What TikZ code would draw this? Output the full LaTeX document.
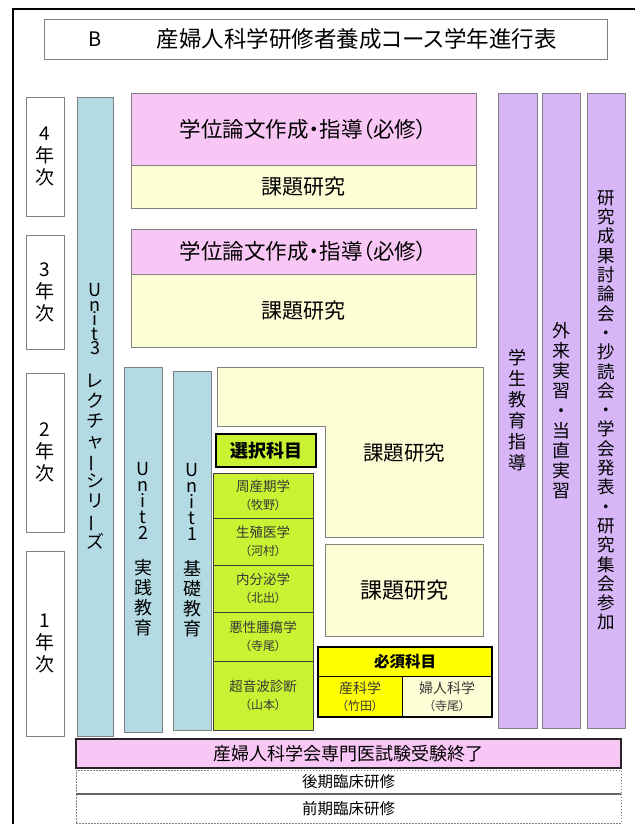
\documentclass[tikz,border=0pt]{standalone}
\usepackage{fontspec}
\usepackage{graphicx}
\setmainfont{Noto Sans CJK JP}[RawFeature={+palt}]
\definecolor{pinkc}{RGB}{249,199,245}
\definecolor{creamc}{RGB}{254,254,214}
\definecolor{bluec}{RGB}{180,219,228}
\definecolor{purpc}{RGB}{214,182,246}
\definecolor{limec}{RGB}{200,242,50}
\definecolor{yelc}{RGB}{255,255,0}
\definecolor{edgec}{RGB}{128,128,128}
\definecolor{textc}{RGB}{55,55,55}
\newcommand\tatebar{\rotatebox[origin=c]{90}{ー}}
\newcommand\rbox[7]{\node[box,#2,minimum width={(#5)-(#3)},minimum height={(#6)-(#4)}] (#1) at ({((#3)+(#5))/2},{((#4)+(#6))/2}) {#7};}
\tikzset{
  box/.style={draw=edgec,line width=0.8pt,inner sep=0pt,outer sep=0pt,align=center},
  yearbox/.style={fill=white,font=\fontsize{19}{22}\selectfont},
  unitbox/.style={fill=bluec,font=\fontsize{18}{20}\selectfont},
  purpbox/.style={fill=purpc},
  pinkbox/.style={fill=pinkc,font=\fontsize{21.5}{24}\selectfont},
  creambox/.style={fill=creamc,font=\fontsize{21}{24}\selectfont},
  lrow/.style={fill=limec,draw=black!75,line width=0.8pt,text=textc,font=\fontsize{13.5}{18}\selectfont},
  hcell/.style={draw=black,line width=1pt,text=textc,font=\fontsize{14}{17}\selectfont},
  dashbox/.style={draw=gray,dash pattern=on 1.5pt off 1.5pt,font=\fontsize{15.5}{18}\selectfont}
}
\begin{document}
\begin{tikzpicture}[x=1pt,y=-1pt]
\useasboundingbox (0,0) rectangle (635,824);
% outer frame
\draw[line width=1.5pt] (13,824) -- (13,9) -- (635,9);
% title
\rbox{title}{fill=white}{44}{19}{607}{59}{}
\node[font=\fontsize{20}{22}\selectfont] (tb) at (95,39) {B};
\node[anchor=west,font=\fontsize{22.5}{24}\selectfont] (tt) at (153,39) {産婦人科学研修者養成コース学年進行表};
% year labels
\rbox{y4}{yearbox}{26}{97}{64}{216}{4\\年\\次}
\rbox{y3}{yearbox}{26}{235}{64}{349}{3\\年\\次}
\rbox{y2}{yearbox}{26}{373}{64}{532}{2\\年\\次}
\rbox{y1}{yearbox}{26}{551}{64}{736}{1\\年\\次}
% units
\rbox{u3}{unitbox}{77}{97}{113}{736}{U\\[-5.5pt]n\\[-5.5pt]i\\[-5.5pt]t\\[-5.5pt]3\\[13pt]レ\\ク\\チ\\ャ\\\tatebar\\シ\\リ\\\tatebar\\ズ}
\rbox{u2}{unitbox}{124}{367}{162}{732}{U\\[-4pt]n\\[-4pt]i\\[-4pt]t\\[-4pt]2\\[15pt]実\\践\\教\\育}
\rbox{u1}{unitbox}{173}{371}{211}{730}{U\\[-4pt]n\\[-4pt]i\\[-4pt]t\\[-4pt]1\\[15pt]基\\礎\\教\\育}
% 4th and 3rd year
\rbox{p4}{pinkbox}{131}{93}{476}{165}{学位論文作成・指導（必修）}
\rbox{k4}{creambox}{131}{165}{476}{208}{課題研究}
\rbox{p3}{pinkbox}{131}{229}{476}{274}{学位論文作成・指導（必修）}
\rbox{k3}{creambox}{131}{274}{476}{347}{課題研究}
% 2nd year L-shape
\draw[draw=edgec,line width=0.8pt,fill=creamc] (217,367) -- (483,367) -- (483,537) -- (325,537) -- (325,426) -- (217,426) -- cycle;
\node[font=\fontsize{20.5}{24}\selectfont] (k2) at (404,453) {課題研究};
% 1st year
\rbox{k1}{fill=creamc,font=\fontsize{22}{24}\selectfont}{325}{544}{483}{636}{課題研究}
% electives
\rbox{sen}{fill=limec,draw=black,line width=2.2pt,font=\bfseries\fontsize{18}{20}\selectfont}{216}{434}{316}{467}{選択科目}
\rbox{l1}{lrow}{213}{473}{313}{518}{周産期学\\{\fontsize{12}{18}\selectfont （牧野）}}
\rbox{l2}{lrow}{213}{518}{313}{565}{生殖医学\\{\fontsize{12}{18}\selectfont （河村）}}
\rbox{l3}{lrow}{213}{565}{313}{612}{内分泌学\\{\fontsize{12}{18}\selectfont （北出）}}
\rbox{l4}{lrow}{213}{612}{313}{661}{悪性腫瘍学\\{\fontsize{12}{18}\selectfont （寺尾）}}
\rbox{l5}{lrow}{213}{661}{313}{730}{超音波診断\\{\fontsize{12}{18}\selectfont （山本）}}
% required
\rbox{hh}{fill=yelc,draw=black,line width=1pt,font=\bfseries\fontsize{15.5}{18}\selectfont}{318}{647}{492}{676}{必須科目}
\rbox{hs}{hcell,fill=yelc}{318}{676}{402}{717}{産科学\\{\fontsize{12}{17}\selectfont （竹田）}}
\rbox{hf}{hcell,fill=creamc}{402}{676}{492}{717}{婦人科学\\{\fontsize{12}{17}\selectfont （寺尾）}}
\draw[black,line width=2.2pt] (hh.north west) rectangle (hf.south east);
% purple columns
\rbox{c1}{purpbox,font=\fontsize{18}{21}\selectfont}{498}{93}{537}{728}{学\\生\\教\\育\\指\\導}
\rbox{c2}{purpbox,font=\fontsize{18}{20}\selectfont}{542}{93}{580}{728}{外\\来\\実\\習\\・\\当\\直\\実\\習}
\rbox{c3}{purpbox,font=\fontsize{17.5}{19.3}\selectfont}{587}{93}{625}{728}{研\\究\\成\\果\\討\\論\\会\\・\\抄\\読\\会\\・\\学\\会\\発\\表\\・\\研\\究\\集\\会\\参\\加}
% bottom bars
\rbox{exam}{fill=pinkc,draw=black!85,line width=1.6pt,font=\fontsize{18}{20}\selectfont}{76}{739}{621}{768}{産婦人科学会専門医試験受験終了}
\rbox{kouki}{dashbox}{76}{770}{621}{794}{後期臨床研修}
\rbox{zenki}{dashbox}{76}{794}{621}{823}{前期臨床研修}
\draw[line width=1.5pt,black!60] (kouki.south west) -- (kouki.south east);
\end{tikzpicture}
\end{document}
